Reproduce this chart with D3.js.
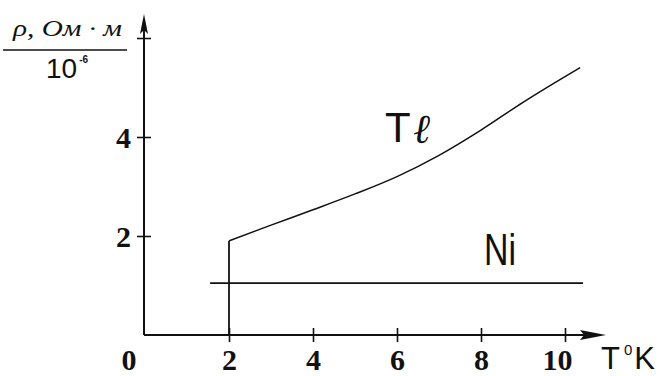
<!DOCTYPE html>
<html>
<head>
<meta charset="utf-8">
<script src="https://cdn.jsdelivr.net/npm/d3@7"></script>
<style>
  html, body { margin: 0; padding: 0; background: #fff; }
  svg { display: block; }
</style>
</head>
<body>
<svg id="chart" width="670" height="376"></svg>
<script>
// Temperature (K) and resistivity (10^-6 Ohm·m) readings
const tlTemp = [2, 3, 4, 5, 6, 7, 8, 9, 10, 10.36];
const tlRho  = [1.90, 2.22, 2.53, 2.85, 3.20, 3.63, 4.14, 4.70, 5.22, 5.40];
// Thallium drops to zero below the transition at 2 K
const tlJumpTemp = [2, 2];
const tlJumpRho  = [0, 1.90];
const niTemp = [1.55, 10.43];
const niRho  = [1.05, 1.05];

const xTicks = [2, 4, 6, 8, 10];
const yTicks = [2, 4, 6];
const yTickLabels = ["2", "4", ""];

const SERIF = "'Times New Roman', 'Liberation Serif', Tinos, serif";
const SANS = "'Liberation Sans', Arial, sans-serif";

const svg = d3.select("#chart");
const x = d3.scaleLinear().domain([0, 10]).range([145, 565]);
const y = d3.scaleLinear().domain([0, 6]).range([335, 38]);

const ink = "#111";

// x axis with ticks crossing the line
const gx = svg.append("g").attr("transform", `translate(0,${y(0)})`)
  .call(d3.axisBottom(x).tickValues(xTicks).tickSize(7).tickFormat(d3.format("d")));
gx.select(".domain").remove();
gx.selectAll(".tick line").attr("y1", -7).attr("y2", 7).attr("stroke", ink).attr("stroke-width", 1.6);
gx.selectAll(".tick text")
  .attr("y", 35).attr("dy", 0)
  .attr("dx", d => d >= 10 ? -8 : 0)
  .style("font-family", SERIF).style("font-weight", "bold").style("font-size", "30px").attr("fill", ink);

// y axis
const gy = svg.append("g").attr("transform", `translate(${x(0) - 1},0)`)
  .call(d3.axisLeft(y).tickValues(yTicks).tickSize(7)
    .tickFormat((d, i) => yTickLabels[i]).tickPadding(6));
gy.select(".domain").remove();
gy.selectAll(".tick line").attr("x1", -7).attr("x2", 7).attr("stroke", ink).attr("stroke-width", 1.6);
gy.selectAll(".tick text")
  .style("font-family", SERIF).style("font-weight", "bold").style("font-size", "30px")
  .attr("fill", ink).attr("dy", "0.34em");

// axis lines with arrowheads
svg.append("line").attr("x1", x(0) - 1).attr("x2", 600).attr("y1", y(0)).attr("y2", y(0))
  .attr("stroke", ink).attr("stroke-width", 2);
svg.append("path")
  .attr("d", `M580,${y(0) - 5} L606,${y(0)} L580,${y(0) + 5} L584,${y(0)} Z`)
  .attr("fill", ink);
svg.append("line").attr("x1", x(0) - 1).attr("x2", x(0) - 1).attr("y1", y(0)).attr("y2", 22)
  .attr("stroke", ink).attr("stroke-width", 2);
svg.append("path")
  .attr("d", `M${x(0) - 5},34 L${x(0) - 1},14 L${x(0) + 3},34 L${x(0) - 1},30 Z`)
  .attr("fill", ink);

// origin label
svg.append("text").attr("x", 129).attr("y", 370).attr("text-anchor", "middle")
  .style("font-family", SERIF).style("font-weight", "bold").style("font-size", "30px")
  .attr("fill", ink).text("0");

// Ni line
const line = d3.line().x(d => x(d[0])).y(d => y(d[1]));
svg.append("path").datum(d3.zip(niTemp, niRho))
  .attr("d", line).attr("fill", "none").attr("stroke", ink).attr("stroke-width", 1.8);

// Tl: vertical jump then smooth rise
svg.append("path").datum(d3.zip(tlJumpTemp, tlJumpRho))
  .attr("d", line).attr("fill", "none").attr("stroke", ink).attr("stroke-width", 1.8);
svg.append("path").datum(d3.zip(tlTemp, tlRho))
  .attr("d", line.curve(d3.curveMonotoneX)).attr("fill", "none")
  .attr("stroke", ink).attr("stroke-width", 1.5);

// series labels
svg.append("text").attr("x", 385).attr("y", 142)
  .style("font-family", SANS).style("font-size", "42px").attr("fill", ink).text("T");
svg.append("text").attr("x", 413).attr("y", 143)
  .style("font-family", "'DejaVu Serif', serif").style("font-style", "italic").style("font-size", "41px")
  .attr("fill", ink).text("ℓ");
svg.append("text").attr("x", 484).attr("y", 265)
  .style("font-family", SANS).style("font-size", "44px")
  .attr("textLength", 32).attr("lengthAdjust", "spacingAndGlyphs")
  .attr("fill", ink).text("Ni");

// x axis title
const xt = svg.append("text").attr("x", 601).attr("y", 369)
  .style("font-family", SANS).style("font-size", "31px").attr("fill", ink);
xt.append("tspan").text("T");
xt.append("tspan").style("font-size", "15px").attr("dy", -14).attr("dx", 4).text("0");
xt.append("tspan").attr("dy", 14).attr("dx", 2).text("K");

// y axis title as a fraction
svg.append("text").attr("x", 13).attr("y", 36)
  .style("font-family", SERIF).style("font-style", "italic").style("font-size", "24px")
  .attr("textLength", 109).attr("lengthAdjust", "spacingAndGlyphs")
  .attr("fill", ink).text("ρ, Ом · м");
svg.append("line").attr("x1", 3).attr("x2", 127).attr("y1", 50).attr("y2", 50)
  .attr("stroke", ink).attr("stroke-width", 1.6);
const yt = svg.append("text").attr("x", 46).attr("y", 78)
  .style("font-family", SANS).style("font-size", "28px").attr("fill", ink);
yt.append("tspan").text("10");
yt.append("tspan").style("font-size", "10px").style("font-weight", "bold").attr("dy", -15).attr("dx", 2).text("-6");
</script>
</body>
</html>
